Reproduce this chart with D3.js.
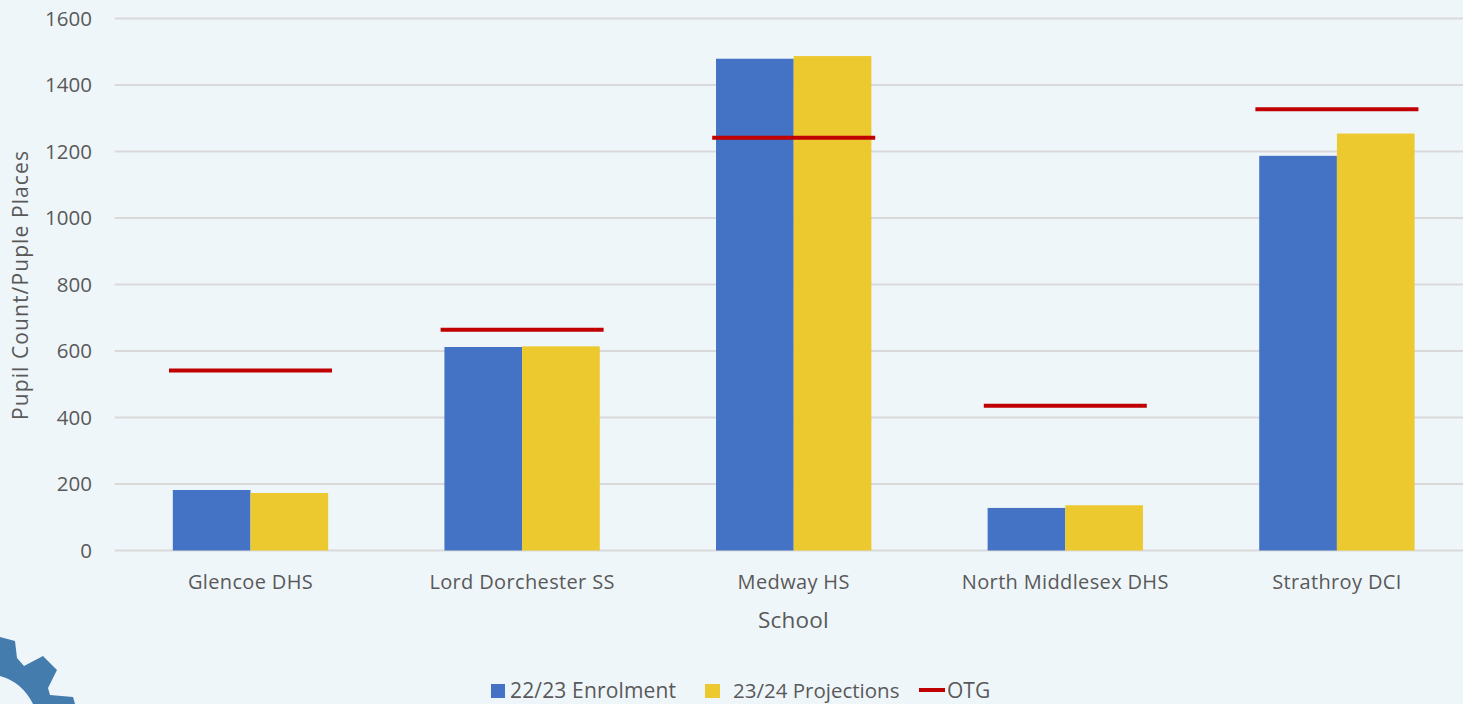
<!DOCTYPE html>
<html>
<head>
<meta charset="utf-8">
<script src="https://cdn.jsdelivr.net/npm/d3@7"></script>
<style>
    html, body { margin: 0; padding: 0; background: #eff6fa; overflow: hidden; }
    svg { display: block; font-family: "Open Sans", sans-serif; }
    text { fill: #595959; }
</style>
</head>
<body>
<svg id="chart"></svg>
<script>
const schools = ['Glencoe DHS', 'Lord Dorchester SS', 'Medway HS', 'North Middlesex DHS', 'Strathroy DCI'];
const enrolment = [182, 612, 1479, 128, 1187];
const projections = [173, 614, 1487, 136, 1254];
const otg = [541, 664, 1241, 435, 1327];
const yTicks = [0, 200, 400, 600, 800, 1000, 1200, 1400, 1600];

const width = 1463, height = 704;
const margin = {top: 18.5, left: 114.7, bottom: 153.5};
const bandWidth = 271.6;

const svg = d3.select('#chart').attr('width', width).attr('height', height);

// the chart runs off the right edge of the picture
const xscale = d3.scaleBand()
    .domain(schools)
    .range([margin.left, margin.left + bandWidth * schools.length])
    .paddingInner(0.428)
    .paddingOuter(0.214);

const yscale = d3.scaleLinear()
    .domain([0, 1600])
    .range([height - margin.bottom, margin.top]);

const barWidth = xscale.bandwidth() / 2;

// logo gear in the corner
svg.append('path')
    .attr('d', 'M0,637 L15,641 L17,658 L24,666 L43,656 L57,670 L48,688 L50,695 L73,697 L75,704 L33,704 Q22,682 0,676 Z')
    .attr('fill', '#457cae');

// gridlines
svg.append('g').selectAll('line')
    .data(yTicks)
    .join('line')
    .attr('x1', margin.left)
    .attr('x2', width)
    .attr('y1', d => yscale(d))
    .attr('y2', d => yscale(d))
    .attr('stroke', '#d9d9d9')
    .attr('stroke-width', 2);

// y axis labels
const yaxis = d3.axisLeft(yscale).tickValues(yTicks).tickFormat(d3.format('d')).tickSize(0).tickPadding(0);
svg.append('g')
    .attr('transform', 'translate(92, 0)')
    .call(yaxis)
    .call(g => g.select('.domain').remove())
    .selectAll('text')
    .style('font-family', '"Open Sans", sans-serif')
    .style('font-size', '20.5px')
    .attr('fill', '#595959');

// bars
svg.append('g').selectAll('rect')
    .data(schools)
    .join('rect')
    .attr('x', d => xscale(d))
    .attr('y', (d, i) => yscale(enrolment[i]))
    .attr('width', barWidth)
    .attr('height', (d, i) => yscale(0) - yscale(enrolment[i]))
    .attr('fill', '#4472c4');

svg.append('g').selectAll('rect')
    .data(schools)
    .join('rect')
    .attr('x', d => xscale(d) + barWidth)
    .attr('y', (d, i) => yscale(projections[i]))
    .attr('width', barWidth)
    .attr('height', (d, i) => yscale(0) - yscale(projections[i]))
    .attr('fill', '#ecc92f');

// OTG capacity lines
const otgHalf = 81.5;
svg.append('g').selectAll('line')
    .data(schools)
    .join('line')
    .attr('x1', d => xscale(d) + barWidth - otgHalf)
    .attr('x2', d => xscale(d) + barWidth + otgHalf)
    .attr('y1', (d, i) => yscale(otg[i]))
    .attr('y2', (d, i) => yscale(otg[i]))
    .attr('stroke', '#c00000')
    .attr('stroke-width', 4);

// x axis labels
const xaxis = d3.axisBottom(xscale).tickSize(0).tickPadding(0);
svg.append('g')
    .attr('transform', 'translate(0, 575)')
    .call(xaxis)
    .call(g => g.select('.domain').remove())
    .selectAll('text')
    .style('font-family', '"Open Sans", sans-serif')
    .style('font-size', '20px')
    .style('letter-spacing', '0.35px')
    .attr('fill', '#595959');

svg.append('text')
    .attr('x', 793.5)
    .attr('y', 628)
    .attr('text-anchor', 'middle')
    .style('font-size', '22.5px')
    .style('letter-spacing', '0.2px')
    .text('School');

svg.append('text')
    .attr('transform', 'translate(28, 285) rotate(-90)')
    .attr('text-anchor', 'middle')
    .style('font-size', '21px')
    .style('letter-spacing', '1.1px')
    .text('Pupil Count/Puple Places');

// legend
const legendY = 691;
svg.append('rect').attr('x', 491).attr('y', legendY - 7).attr('width', 14).attr('height', 14).attr('fill', '#4472c4');
svg.append('text').attr('x', 510).attr('y', legendY + 7).style('font-size', '21px').style('letter-spacing', '0.15px').text('22/23 Enrolment');
svg.append('rect').attr('x', 705).attr('y', legendY - 7).attr('width', 15).attr('height', 14).attr('fill', '#ecc92f');
svg.append('text').attr('x', 733).attr('y', legendY + 7).style('font-size', '20.5px').text('23/24 Projections');
svg.append('line').attr('x1', 919).attr('x2', 945).attr('y1', legendY - 1).attr('y2', legendY - 1).attr('stroke', '#c00000').attr('stroke-width', 4);
svg.append('text').attr('x', 947).attr('y', legendY + 7).style('font-size', '21px').text('OTG');
</script>
</body>
</html>
